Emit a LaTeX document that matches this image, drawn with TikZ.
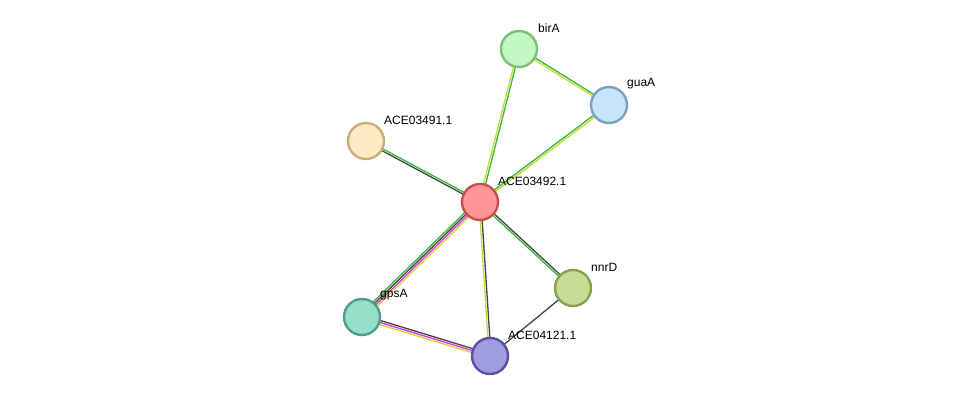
\documentclass[tikz,border=0pt]{standalone}
\usepackage{fontspec}
\setmainfont{Liberation Sans}
\usetikzlibrary{calc}
\definecolor{eg}{HTML}{33BB33}
\definecolor{ey}{HTML}{C8D838}
\definecolor{em}{HTML}{DD33DD}
\definecolor{ed}{HTML}{444444}
\tikzset{x=1pt,y=-1pt,
  prot/.style={circle,minimum size=36pt,inner sep=0pt,line width=2.4pt},
  lab/.style={anchor=west,font=\fontsize{12}{14}\selectfont,inner sep=0pt},
  ln/.style={line width=1.3pt}}
\newcommand{\edg}[4]{\draw[ln,#4] ($(#1)!#3!90:(#2)$) -- ($(#2)!#3!-90:(#1)$);}
\begin{document}
\begin{tikzpicture}
\useasboundingbox (0,0) rectangle (975,402);
\coordinate (c) at (480,202);
\coordinate (b) at (519,49);
\coordinate (g) at (609,105);
\coordinate (a1) at (366,141);
\coordinate (n) at (573,288);
\coordinate (p) at (362,317);
\coordinate (a4) at (490,356);
% edges
\edg{c}{b}{-1pt}{eg}\edg{c}{b}{1pt}{ey}
\edg{b}{g}{-1pt}{ey}\edg{b}{g}{1pt}{eg}
\edg{c}{g}{-1pt}{ey}\edg{c}{g}{1pt}{eg}
\edg{c}{a1}{-1pt}{eg}\edg{c}{a1}{1pt}{ed}
\edg{c}{n}{-1pt}{eg}\edg{c}{n}{1pt}{ed}
\edg{c}{p}{-3pt}{eg}\edg{c}{p}{-1pt}{ed}\edg{c}{p}{1pt}{em}\edg{c}{p}{3pt}{ey}
\edg{c}{a4}{-1pt}{ey}\edg{c}{a4}{1pt}{ed}
\edg{p}{a4}{-2pt}{ey}\edg{p}{a4}{0pt}{em}\edg{p}{a4}{2pt}{ed}
\edg{n}{a4}{0pt}{ed}
% nodes
\node[prot,fill={rgb,255:red,255;green,149;blue,149},draw={rgb,255:red,198;green,80;blue,80}] (C) at (c) {};
\node[prot,fill={rgb,255:red,194;green,248;blue,194},draw={rgb,255:red,124;green,192;blue,124}] (B) at (b) {};
\node[prot,fill={rgb,255:red,197;green,229;blue,250},draw={rgb,255:red,123;green,160;blue,192}] (G) at (g) {};
\node[prot,fill={rgb,255:red,253;green,233;blue,194},draw={rgb,255:red,200;green,174;blue,124}] (A1) at (a1) {};
\node[prot,fill={rgb,255:red,197;green,221;blue,149},draw={rgb,255:red,136;green,160;blue,80}] (N) at (n) {};
\node[prot,fill={rgb,255:red,149;green,224;blue,200},draw={rgb,255:red,78;green,158;blue,138}] (P) at (p) {};
\node[prot,fill={rgb,255:red,160;green,156;blue,224},draw={rgb,255:red,90;green,80;blue,160}] (A4) at (a4) {};
% labels
\node[lab] (lc) at (498,181) {ACE03492.1};
\node[lab] (lb) at (538,28) {birA};
\node[lab] (lg) at (627,84) {guaA};
\node[lab] (la1) at (384,120) {ACE03491.1};
\node[lab] (ln) at (591,267) {nnrD};
\node[lab] (lp) at (380,295) {gpsA};
\node[lab] (la4) at (508,335) {ACE04121.1};
\end{tikzpicture}
\end{document}
